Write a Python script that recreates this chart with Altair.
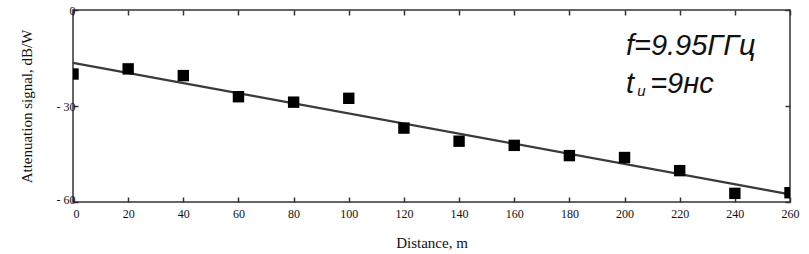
import altair as alt
import pandas as pd

# measured data
distance = [0, 20, 40, 60, 80, 100, 120, 140, 160, 180, 200, 220, 240, 260]
attenuation = [-20.0, -18.4, -20.5, -27.1, -28.8, -27.6, -36.9, -41.0, -42.3, -45.5, -46.1, -50.2, -57.3, -57.1]

# linear fit endpoints
fit_x = [0, 260]
fit_y = [-16.5, -57.6]

# annotation texts and their anchor points (data coords)
ann_text = ["f=9.95ГГц", "t", "=9нс"]
ann_x = [200.5, 200.5, 209.3]
ann_y = [-14.2, -26.0, -26.0]
sub_text = ["и"]
sub_x = [204.6]
sub_y = [-27.0]

df = pd.DataFrame({"d": distance, "a": attenuation})
df_fit = pd.DataFrame({"d": fit_x, "a": fit_y})
df_ann = pd.DataFrame({"d": ann_x, "a": ann_y, "t": ann_text})
df_sub = pd.DataFrame({"d": sub_x, "a": sub_y, "t": sub_text})

xs = alt.Scale(domain=[0, 260], nice=False, zero=False)
ys = alt.Scale(domain=[-60, 0], nice=False, zero=False)
inward = alt.ExprRef(expr="-5")

serif = "Liberation Serif"

line = alt.Chart(df_fit).mark_line(color="#3a3a3a", strokeWidth=2.2).encode(
    x=alt.X("d:Q", scale=xs, axis=alt.Axis(orient="top", values=list(range(0, 261, 20)),
                                            labels=False, title=None, tickSize=inward,
                                            tickColor="#333", tickWidth=1.5, domain=False, grid=False)),
    y=alt.Y("a:Q", scale=ys, axis=alt.Axis(orient="right", values=[0, -30, -60],
                                            labels=False, title=None, tickSize=inward,
                                            tickColor="#333", tickWidth=1.5, domain=False, grid=False)),
)

pts = alt.Chart(df).mark_square(size=130, color="black", opacity=1, clip=True).encode(
    x=alt.X("d:Q", scale=xs, axis=alt.Axis(orient="bottom", values=list(range(0, 261, 20)),
                                            title="Distance, m", tickSize=inward, labelPadding=11,
                                            labelFlush=False, tickColor="#333", tickWidth=1.5,
                                            labelOffset={"condition": {"test": "datum.value == 0", "value": 3}, "value": 0},
                                            domain=False, grid=False, titlePadding=16)),
    y=alt.Y("a:Q", scale=ys, axis=alt.Axis(orient="left", values=[0, -30, -60],
                                            title="Attenuation signal, dB/W", tickSize=inward,
                                            labelPadding=3, labelFlush=False,
                                            labelOffset={"condition": {"test": "datum.value == -60", "value": -3}, "value": 0},
                                            labelExpr="datum.value == 0 ? '0' : '- ' + abs(datum.value)",
                                            tickColor="#333", tickWidth=1.5, domain=False, grid=False,
                                            titlePadding=22)),
)

ann = alt.Chart(df_ann).mark_text(align="left", baseline="alphabetic", font="Liberation Sans",
                                   fontStyle="italic", fontSize=29, color="#111").encode(
    x=alt.X("d:Q", scale=xs, axis=None),
    y=alt.Y("a:Q", scale=ys, axis=None),
    text="t:N",
)

sub = alt.Chart(df_sub).mark_text(align="left", baseline="alphabetic", font="Liberation Sans",
                                   fontStyle="italic", fontSize=15, color="#111").encode(
    x=alt.X("d:Q", scale=xs, axis=None),
    y=alt.Y("a:Q", scale=ys, axis=None),
    text="t:N",
)

chart = alt.layer(line, pts, ann, sub).resolve_axis(x="independent", y="independent").properties(
    width=717, height=192,
    autosize=alt.AutoSizeParams(type="none"),
    padding={"left": 73, "top": 10, "right": 19, "bottom": 52},
    background="white",
).configure_view(stroke="#333", strokeWidth=1.5).configure_axis(
    labelFont=serif, labelFontSize=12, labelColor="#111",
    titleFont=serif, titleFontSize=15, titleFontWeight="normal", titleColor="#111",
)

chart.save("out.html", embed_options={"renderer": "svg", "actions": False})
